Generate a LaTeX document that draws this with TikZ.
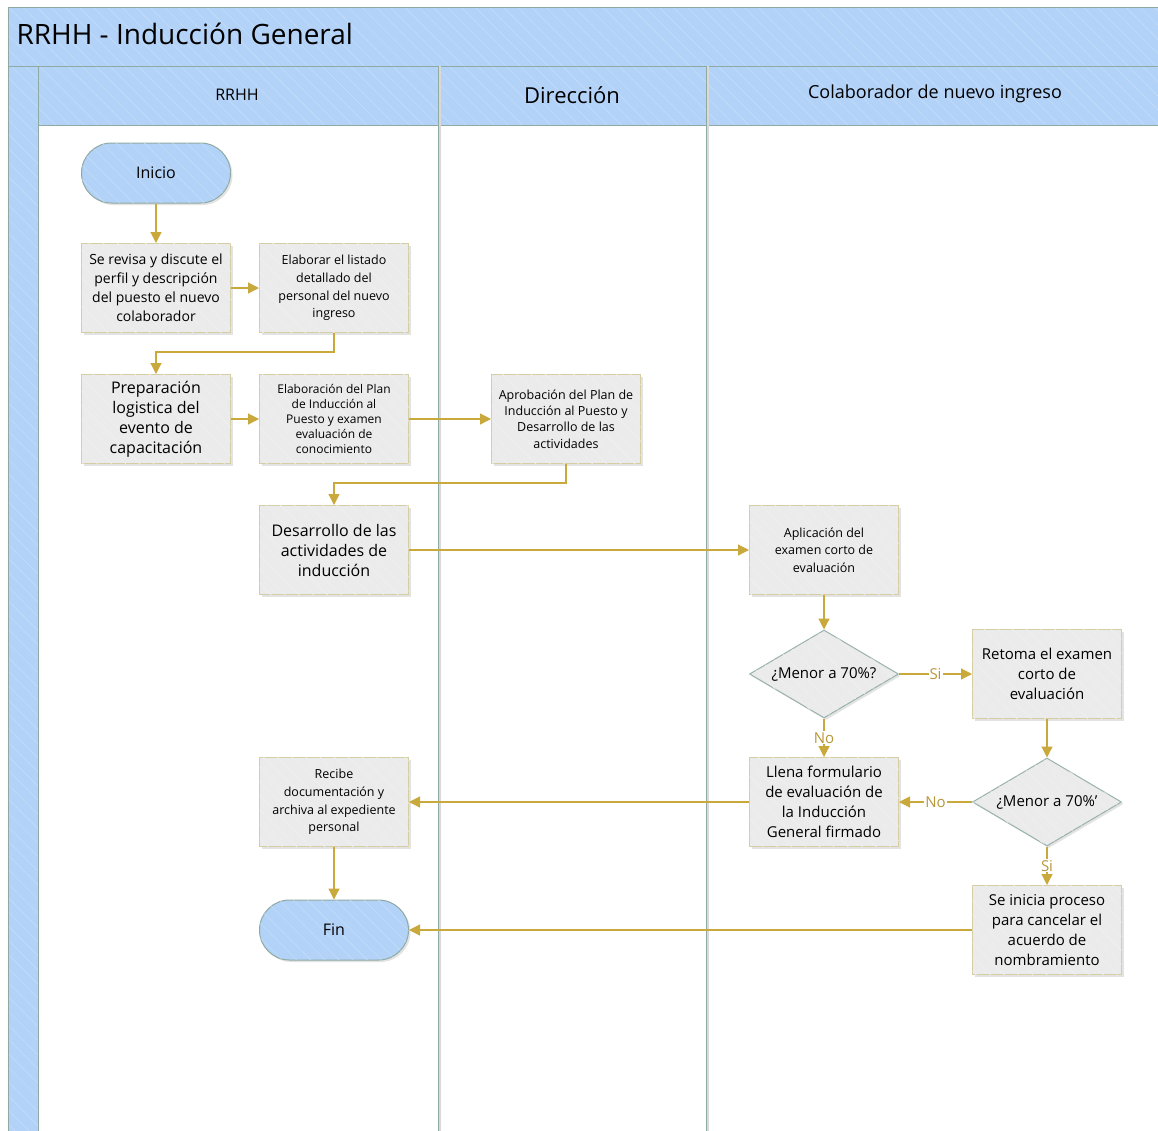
\documentclass[tikz,border=0pt]{standalone}
\usepackage{fontspec}
\setmainfont{Open Sans}
\usetikzlibrary{arrows.meta,shapes.geometric,patterns.meta,shadows}
\definecolor{laneblue}{HTML}{B2D2F7}
\definecolor{poolline}{HTML}{8FAAA3}
\definecolor{boxfill}{HTML}{EBEBEB}
\definecolor{boxline}{HTML}{D6CEA3}
\definecolor{flow}{HTML}{C9A83C}
\definecolor{flowtxt}{HTML}{B8973A}
\newcommand\myfs[2]{\fontsize{#1}{#2}\selectfont}
\tikzset{
  hatch/.style={postaction={pattern={Lines[angle=-45,distance=10pt,line width=0.6pt]},pattern color=white!25!#1}},
  procbox/.style={draw=boxline, line width=1pt, fill=boxfill, minimum width=149pt, minimum height=89pt,
     inner sep=2pt, align=center, drop shadow={opacity=0.22,shadow xshift=2pt,shadow yshift=-2pt}, hatch=boxfill},
  termbox/.style={draw=poolline, line width=1pt, fill=laneblue, rounded corners=30pt, minimum width=149pt,
     minimum height=60pt, align=center, drop shadow={opacity=0.22,shadow xshift=2pt,shadow yshift=-2pt}, hatch=laneblue,
     font=\myfs{16}{20}},
  decbox/.style={diamond, draw=poolline!90, line width=1pt, fill=boxfill, minimum width=149pt, minimum height=88pt,
     inner sep=0pt, drop shadow={opacity=0.22,shadow xshift=2pt,shadow yshift=-2pt}, hatch=boxfill},
  dectext/.style={font=\myfs{15}{19}, inner sep=0pt},
  flowline/.style={draw=flow, line width=1.2pt, -{Triangle[length=11pt,width=11pt]}},
  flowlbl/.style={fill=white, text=flowtxt, inner sep=1pt, font=\myfs{15}{18}},
  lanebg/.style={fill=laneblue, hatch=laneblue},
}
\begin{document}
\begin{tikzpicture}[x=1pt,y=-1pt]
\useasboundingbox (0,0) rectangle (1158,1130);
\clip (0,0) rectangle (1158,1130);
% pool
\fill[white] (0,0) rectangle (1158,1130);
\path[lanebg] (8,7) rectangle (1170,66);
\path[lanebg] (8,66) rectangle (38,1140);
\path[lanebg] (38,66) rectangle (1170,125);
\draw[poolline, line width=1pt] (8,1140) -- (8,7) -- (1170,7);
\draw[poolline, line width=1pt] (8,66) -- (1170,66);
\draw[poolline, line width=1pt] (38,66) -- (38,1140);
\draw[poolline, line width=1pt] (38,125) -- (1170,125);
\draw[gray!30, line width=2pt] (440,66) -- (440,1140) (708,66) -- (708,1140);
\draw[poolline, line width=1pt] (438,66) -- (438,1140) (706,66) -- (706,1140);
\node[anchor=west, font=\myfs{28}{32}] (title) at (13,34) {RRHH - Inducción General};
\node[font=\myfs{16}{20}] (l1) at (237,95) {RRHH};
\node[font=\myfs{22}{26}] (l2) at (572,95) {Dirección};
\node[font=\myfs{18}{22}] (l3) at (935,94) {Colaborador de nuevo ingreso};
% nodes
\node[termbox] (inicio) at (156,173) {Inicio};
\node[procbox, font=\myfs{14}{19}] (b1) at (156,288) {Se revisa y discute el\\perfil y descripción\\del puesto el nuevo\\colaborador};
\node[procbox, font=\myfs{12.5}{17.7}] (b2) at (334,288) {Elaborar el listado\\detallado del\\personal del nuevo\\ingreso};
\node[procbox, font=\myfs{16}{20}] (b3) at (156,419) {Preparación\\logistica del\\evento de\\capacitación};
\node[procbox, font=\myfs{12}{15}] (b4) at (334,419) {Elaboración del Plan\\de Inducción al\\Puesto y examen\\evaluación de\\conocimiento};
\node[procbox, font=\myfs{12.5}{16.3}] (b5) at (566,419) {Aprobación del Plan de\\Inducción al Puesto y\\Desarrollo de las\\actividades};
\node[procbox, font=\myfs{16}{20}] (b6) at (334,550) {Desarrollo de las\\actividades de\\inducción};
\node[procbox, font=\myfs{12.5}{17.5}] (b7) at (824,550) {Aplicación del\\examen corto de\\evaluación};
\node[decbox] (d1) at (824,674) {};
\node[dectext] (d1t) at (d1.center) {¿Menor a 70\%?};
\node[procbox, font=\myfs{15}{20}] (b8) at (1047,674) {Retoma el examen\\corto de\\evaluación};
\node[procbox, font=\myfs{15}{20}] (b9) at (824,802) {Llena formulario\\de evaluación de\\la Inducción\\General firmado};
\node[decbox] (d2) at (1047,802) {};
\node[dectext] (d2t) at (d2.center) {¿Menor a 70\%’};
\node[procbox, font=\myfs{12.5}{17.7}] (b10) at (334,802) {Recibe\\documentación y\\archiva al expediente\\personal};
\node[procbox, font=\myfs{15}{20}] (b11) at (1047,930) {Se inicia proceso\\para cancelar el\\acuerdo de\\nombramiento};
\node[termbox] (fin) at (334,930) {Fin};
% connectors
\draw[flowline] (inicio) -- (b1);
\draw[flowline] (b1) -- (b2);
\draw[flowline] (b2.south) -- ++(0,19) -| (b3.north);
\draw[flowline] (b3) -- (b4);
\draw[flowline] (b4) -- (b5);
\draw[flowline] (b5.south) -- ++(0,19) -| (b6.north);
\draw[flowline] (b6) -- (b7);
\draw[flowline] (b7) -- (d1);
\draw[flowline] (d1.east) -- node[flowlbl] {Si} (b8.west);
\draw[flowline] (d1.south) -- node[flowlbl] {No} (b9.north);
\draw[flowline] (b8) -- (d2);
\draw[flowline] (d2.west) -- node[flowlbl] {No} (b9.east);
\draw[flowline] (d2.south) -- node[flowlbl] {Si} (b11.north);
\draw[flowline] (b9) -- (b10);
\draw[flowline] (b10) -- (fin);
\draw[flowline] (b11) -- (fin);
\end{tikzpicture}
\end{document}
